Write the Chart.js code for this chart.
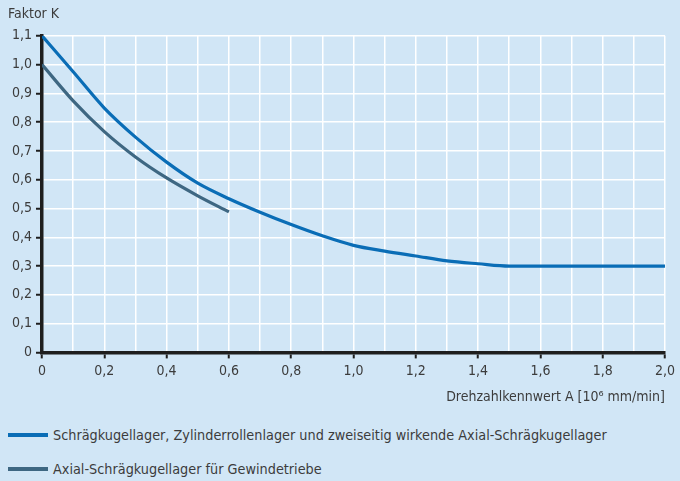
<!DOCTYPE html>
<html>
<head>
<meta charset="utf-8">
<script src="https://cdn.jsdelivr.net/npm/chart.js@4"></script>
<style>
  html, body { margin: 0; padding: 0; background: #d1e6f6; }
  #wrap { position: relative; width: 680px; height: 481px; overflow: hidden; }
  #chart { position: absolute; left: 0; top: 0; }
  .legend-item {
    position: absolute; left: 8px; height: 20px;
    font-family: 'DejaVu Sans Condensed', sans-serif; font-size: 14.3px; color: #3c3c3c;
    line-height: 20px; white-space: nowrap;
  }
  .legend-item .swatch {
    display: inline-block; width: 40px; height: 4px; margin-right: 5px; vertical-align: middle;
    position: relative; top: -1px;
  }
</style>
</head>
<body>
<div id="wrap">
  <canvas id="chart" width="680" height="422"></canvas>
  <div id="legend"></div>
</div>
<script>
const xValues = [0, 0.1, 0.2, 0.3, 0.4, 0.5, 0.6, 0.7, 0.8, 0.9, 1.0, 1.1, 1.2, 1.3, 1.4, 1.5, 2.0];
const kAngular = [1.10, 0.975, 0.849, 0.748, 0.661, 0.588, 0.534, 0.487, 0.444, 0.405, 0.372, 0.352, 0.335, 0.318, 0.308, 0.30, 0.30];
const kScrewDrive = [1.00, 0.874, 0.767, 0.679, 0.606, 0.544, 0.488];
const seriesLabels = [
  'Schrägkugellager, Zylinderrollenlager und zweiseitig wirkende Axial-Schrägkugellager',
  'Axial-Schrägkugellager für Gewindetriebe'
];
const seriesColors = ['#0a6db6', '#3e6782'];
const yTitle = 'Faktor K';
const xTitle = 'Drehzahlkennwert A [10⁶ mm/min]';

const fontFamily = "'DejaVu Sans Condensed', sans-serif";
const textColor = '#3c3c3c';

const fmt = (v) => {
  const r = Math.round(v * 10) / 10;
  return r === 0 ? '0' : r.toFixed(1).replace('.', ',');
};
const isEven = (v) => Math.round(v * 10) % 2 === 0;

const toPoints = (ys) => ys.map((y, i) => ({ x: xValues[i], y }));

// legend below the chart
const legend = document.querySelector('#legend');
seriesLabels.forEach((label, i) => {
  const item = document.createElement('div');
  item.className = 'legend-item';
  item.style.top = (425 + i * 34) + 'px';
  item.innerHTML = `<span class="swatch" style="background:${seriesColors[i]}"></span>${label}`;
  legend.appendChild(item);
});

const ctx = document.querySelector('#chart').getContext('2d');

new Chart(ctx, {
  type: 'line',
  data: {
    datasets: [
      {
        label: seriesLabels[0],
        data: toPoints(kAngular),
        borderColor: seriesColors[0],
        borderWidth: 3.2,
        pointRadius: 0,
        cubicInterpolationMode: 'monotone',
      },
      {
        label: seriesLabels[1],
        data: toPoints(kScrewDrive),
        borderColor: seriesColors[1],
        borderWidth: 3.2,
        pointRadius: 0,
        cubicInterpolationMode: 'monotone',
      },
    ],
  },
  options: {
    responsive: false,
    animation: false,
    layout: { padding: { left: 8, right: 15, top: 6, bottom: 2 } },
    plugins: {
      title: {
        display: true,
        text: yTitle,
        align: 'start',
        color: textColor,
        font: { family: fontFamily, size: 14, weight: 'normal' },
        padding: { top: 0, bottom: 13 },
      },
      legend: { display: false },
      tooltip: { enabled: false },
    },
    scales: {
      x: {
        type: 'linear',
        min: 0,
        max: 2.0,
        ticks: {
          stepSize: 0.1,
          autoSkip: false,
          maxRotation: 0,
          padding: 5,
          color: textColor,
          font: { family: fontFamily, size: 14 },
          callback: (v) => (isEven(v) ? fmt(v) : ''),
        },
        grid: {
          color: '#ffffff',
          lineWidth: 1.5,
          tickLength: 6,
          tickWidth: 2,
          tickColor: (c) => (c.tick && isEven(c.tick.value) ? '#1e1e1e' : 'rgba(0,0,0,0)'),
        },
        border: { color: '#1e1e1e', width: 3.5 },
        title: {
          display: true,
          text: xTitle,
          align: 'end',
          color: textColor,
          font: { family: fontFamily, size: 14 },
          padding: { top: 4, bottom: 14 },
        },
      },
      y: {
        min: 0,
        max: 1.1,
        ticks: {
          stepSize: 0.1,
          padding: 4,
          color: textColor,
          font: { family: fontFamily, size: 14 },
          callback: (v) => fmt(v),
        },
        grid: {
          color: '#ffffff',
          lineWidth: 1.5,
          tickLength: 6,
          tickWidth: 2,
          tickColor: '#1e1e1e',
        },
        border: { color: '#1e1e1e', width: 3.5 },
      },
    },
  },
});
</script>
</body>
</html>
